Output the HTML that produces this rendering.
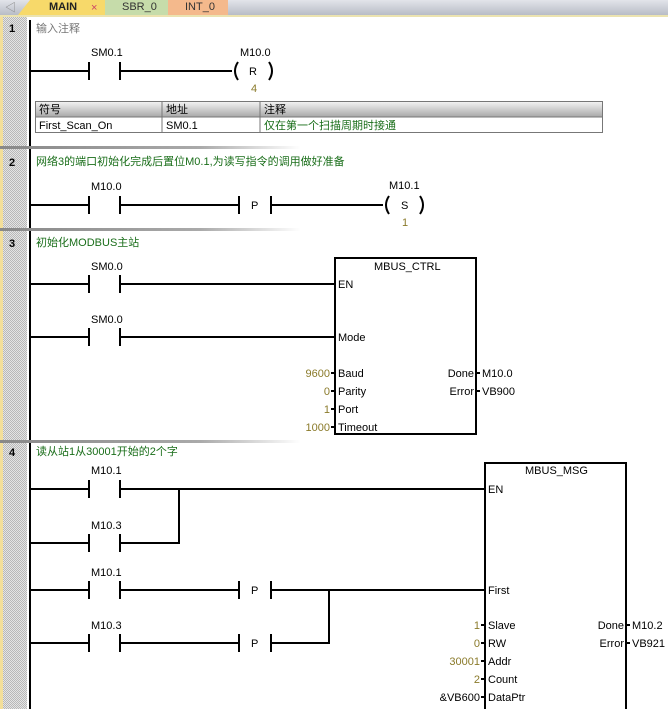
<!DOCTYPE html>
<html><head><meta charset="utf-8"><style>
html,body{margin:0;padding:0;background:#fff;width:668px;height:709px;overflow:hidden}
svg text{font-family:"Liberation Sans","Noto Sans CJK SC",sans-serif;font-size:11px}
</style></head><body>
<svg width="668" height="709" viewBox="0 0 668 709" xmlns="http://www.w3.org/2000/svg">
<defs>
<pattern id="hatch" width="2" height="2" patternUnits="userSpaceOnUse"><rect width="2" height="2" fill="#e4e4e4"/><rect width="1" height="1" fill="#b8b8b8"/><rect x="1" y="1" width="1" height="1" fill="#b8b8b8"/></pattern>
<linearGradient id="tabbar" x1="0" y1="0" x2="0" y2="1"><stop offset="0" stop-color="#e2e4ea"/><stop offset="1" stop-color="#b8bcc6"/></linearGradient>
<linearGradient id="sep" x1="0" y1="0" x2="1" y2="0"><stop offset="0" stop-color="#888"/><stop offset="0.3" stop-color="#aaa"/><stop offset="0.45" stop-color="#fff"/></linearGradient>
<linearGradient id="hdr" x1="0" y1="0" x2="0" y2="1"><stop offset="0" stop-color="#f2f2f2"/><stop offset="1" stop-color="#a8a8a8"/></linearGradient>
</defs>
<!-- tab bar -->
<rect x="0" y="0" width="668" height="15" fill="url(#tabbar)"/>
<rect x="0" y="15" width="668" height="2" fill="#ebe3b0"/>
<text x="5" y="11" fill="#888" font-size="9">◁</text>
<path d="M18 15 L30 0 L105 0 L105 15 Z" fill="#f7d96a"/>
<rect x="105" y="0" width="63" height="15" fill="#c6dcaa"/>
<rect x="168" y="0" width="60" height="15" fill="#f4b98c"/>
<text x="49" y="10" font-weight="bold" fill="#222">MAIN</text>
<text x="91" y="11" fill="#c46">×</text>
<text x="122" y="10" fill="#333">SBR_0</text>
<text x="185" y="10" fill="#333">INT_0</text>
<!-- gutter -->
<rect x="0" y="17" width="27" height="692" fill="url(#hatch)"/>
<rect x="0" y="17" width="3" height="692" fill="#f3df9a"/>
<!-- power rail -->
<rect x="29" y="20" width="2" height="689" fill="#000"/>
<!-- separators -->
<rect x="0" y="146" width="668" height="3" fill="url(#sep)"/>
<rect x="0" y="228" width="668" height="3" fill="url(#sep)"/>
<rect x="0" y="440" width="668" height="3" fill="url(#sep)"/>
<g font-weight="bold" fill="#000"><text x="9" y="32">1</text><text x="9" y="166">2</text><text x="9" y="247">3</text><text x="9" y="456">4</text></g>

<g stroke="#000" stroke-width="2" fill="none">
<!-- N1 -->
<path d="M30 71H89M89 62V80M120 62V80M120 71H232"/>
<path d="M238 62q-6 9 0 18M269 62q6 9 0 18"/>
<!-- N2 -->
<path d="M30 205H89M89 196V214M120 196V214M120 205H239M239 196V214M271 196V214M271 205H383"/>
<path d="M389 196q-6 9 0 18M420 196q6 9 0 18"/>
<!-- N3 -->
<path d="M30 284H89M89 275V293M120 275V293M120 284H335"/>
<path d="M30 337H89M89 328V346M120 328V346M120 337H335"/>
<rect x="335" y="258" width="141" height="176"/>
<!-- N4 -->
<path d="M30 489H89M89 480V498M120 480V498M120 489H485"/>
<path d="M30 543H89M89 534V552M120 534V552M120 543H179V489"/>
<path d="M30 590H89M89 581V599M120 581V599M120 590H239M239 581V599M271 581V599M271 590H485"/>
<path d="M30 643H89M89 634V652M120 634V652M120 643H239M239 634V652M271 634V652M271 643H329V590"/>
<rect x="485" y="463" width="141" height="250"/>
</g>
<g stroke="#000" stroke-width="2">
<path d="M331 373H336M331 391H336M331 409H336M331 427H336M475 373H480M475 391H480"/>
<path d="M481 625H486M481 643H486M481 661H486M481 679H486M481 697H486M625 625H630M625 643H630"/>
</g>

<!-- N1 text -->
<text x="36" y="32" fill="#777">输入注释</text>
<text x="91" y="56" fill="#000">SM0.1</text>
<text x="240" y="56" fill="#000">M10.0</text>
<text x="249" y="75" fill="#000">R</text>
<text x="251" y="92" fill="#8a7a2a">4</text>
<rect x="35.5" y="101.5" width="567" height="31" fill="#fff" stroke="#777"/>
<rect x="36" y="102" width="566" height="15" fill="url(#hdr)"/>
<path d="M35 117H603M162 101V133M260 101V133" stroke="#777"/>
<text x="39" y="113" fill="#000">符号</text><text x="166" y="113" fill="#000">地址</text><text x="264" y="113" fill="#000">注释</text>
<text x="39" y="129" fill="#000">First_Scan_On</text><text x="166" y="129" fill="#000">SM0.1</text><text x="264" y="129" fill="#1a6e1a">仅在第一个扫描周期时接通</text>
<!-- N2 text -->
<text x="36" y="165" fill="#1a6e1a">网络3的端口初始化完成后置位M0.1,为读写指令的调用做好准备</text>
<text x="91" y="190" fill="#000">M10.0</text>
<text x="251" y="209" fill="#000">P</text>
<text x="389" y="189" fill="#000">M10.1</text>
<text x="401" y="209" fill="#000">S</text>
<text x="402" y="226" fill="#8a7a2a">1</text>
<!-- N3 text -->
<text x="36" y="246" fill="#1a6e1a">初始化MODBUS主站</text>
<text x="91" y="270" fill="#000">SM0.0</text>
<text x="91" y="323" fill="#000">SM0.0</text>
<text x="374" y="270" fill="#000">MBUS_CTRL</text>
<text x="338" y="288" fill="#000">EN</text>
<text x="338" y="341" fill="#000">Mode</text>
<text x="338" y="377" fill="#000">Baud</text>
<text x="338" y="395" fill="#000">Parity</text>
<text x="338" y="413" fill="#000">Port</text>
<text x="338" y="431" fill="#000">Timeout</text>
<g text-anchor="end" fill="#8a7a2a"><text x="330" y="377">9600</text><text x="330" y="395">0</text><text x="330" y="413">1</text><text x="330" y="431">1000</text></g>
<g text-anchor="end" fill="#000"><text x="474" y="377">Done</text><text x="474" y="395">Error</text></g>
<text x="482" y="377" fill="#000">M10.0</text><text x="482" y="395" fill="#000">VB900</text>
<!-- N4 text -->
<text x="36" y="455" fill="#1a6e1a">读从站1从30001开始的2个字</text>
<text x="91" y="474" fill="#000">M10.1</text>
<text x="91" y="529" fill="#000">M10.3</text>
<text x="91" y="576" fill="#000">M10.1</text>
<text x="91" y="629" fill="#000">M10.3</text>
<text x="251" y="594" fill="#000">P</text>
<text x="251" y="647" fill="#000">P</text>
<text x="525" y="474" fill="#000">MBUS_MSG</text>
<text x="488" y="493" fill="#000">EN</text>
<text x="488" y="594" fill="#000">First</text>
<text x="488" y="629" fill="#000">Slave</text>
<text x="488" y="647" fill="#000">RW</text>
<text x="488" y="665" fill="#000">Addr</text>
<text x="488" y="683" fill="#000">Count</text>
<text x="488" y="701" fill="#000">DataPtr</text>
<g text-anchor="end" fill="#8a7a2a"><text x="480" y="629">1</text><text x="480" y="647">0</text><text x="480" y="665">30001</text><text x="480" y="683">2</text></g>
<text x="480" y="701" text-anchor="end" fill="#000">&amp;VB600</text>
<g text-anchor="end" fill="#000"><text x="624" y="629">Done</text><text x="624" y="647">Error</text></g>
<text x="632" y="629" fill="#000">M10.2</text><text x="632" y="647" fill="#000">VB921</text>
</svg>
</body></html>
